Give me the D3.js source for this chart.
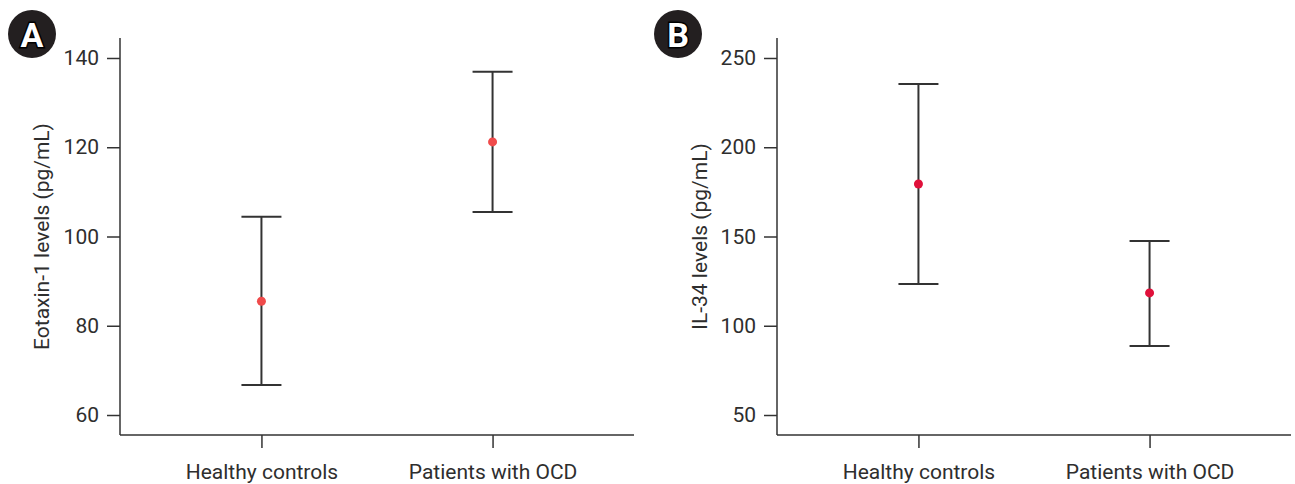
<!DOCTYPE html>
<html>
<head>
<meta charset="utf-8">
<script src="https://cdn.jsdelivr.net/npm/d3@7"></script>
<style>
  body { margin: 0; background: #fff; }
  svg { display: block; font-family: Roboto, "Noto Sans", sans-serif; }
</style>
</head>
<body>
<svg id="chart" width="1295" height="484"></svg>
<script>
// Group labels shared by both panels
const groups = ["Healthy controls", "Patients with OCD"];

// Panel A: Eotaxin-1 (pg/mL) — mean with lower/upper error limits
const eotaxinMean  = [85.5, 121.2];
const eotaxinLower = [66.7, 105.5];
const eotaxinUpper = [104.4, 136.9];
const eotaxinTicks = [60, 80, 100, 120, 140];

// Panel B: IL-34 (pg/mL)
const il34Mean  = [179.4, 118.4];
const il34Lower = [123.4, 88.7];
const il34Upper = [235.4, 147.5];
const il34Ticks = [50, 100, 150, 200, 250];

const svg = d3.select("#chart");
const axisColor = "#333";
const textColor = "#2e2e2e";
const fontSize = "21px";

function panel(opts) {
  const { left, right, top, bottom, domain, ticks, mean, lower, upper,
          title, titleX, letter, badgeX, dotColor } = opts;

  const x = d3.scalePoint().domain(groups).range([left, right]).padding(0.612);
  const y = d3.scaleLinear().domain(domain).range([bottom, top]);

  const g = svg.append("g");

  // y axis
  const ya = g.append("g")
    .attr("transform", `translate(${left},0)`)
    .call(d3.axisLeft(y).tickValues(ticks).tickSize(13).tickPadding(8).tickSizeOuter(0));
  // x axis
  const xa = g.append("g")
    .attr("transform", `translate(0,${bottom})`)
    .call(d3.axisBottom(x).tickSize(13).tickPadding(16).tickSizeOuter(0));

  [ya, xa].forEach(a => {
    a.attr("font-size", null).attr("font-family", null);
    a.selectAll("path.domain").attr("stroke", axisColor).attr("stroke-width", 1.5);
    a.selectAll(".tick line").attr("stroke", axisColor).attr("stroke-width", 1.5);
    a.selectAll(".tick text").attr("fill", textColor).style("font-size", fontSize);
  });
  xa.select("path.domain").attr("d", `M${left},0H${right}`);
  ya.select("path.domain").attr("d", `M0,${top}V${bottom}`);

  // y axis title
  g.append("text")
    .attr("transform", `translate(${titleX},${(top + bottom) / 2}) rotate(-90)`)
    .attr("text-anchor", "middle")
    .attr("dominant-baseline", "central")
    .attr("fill", textColor)
    .style("font-size", fontSize)
    .text(title);

  // error bars
  const capHalf = 20;
  const data = groups.map((k, i) => ({ k, m: mean[i], lo: lower[i], hi: upper[i] }));
  const eb = g.append("g").selectAll("g").data(data).join("g");
  eb.append("line")
    .attr("x1", d => x(d.k)).attr("x2", d => x(d.k))
    .attr("y1", d => y(d.hi)).attr("y2", d => y(d.lo))
    .attr("stroke", axisColor).attr("stroke-width", 2);
  eb.append("line")
    .attr("x1", d => x(d.k) - capHalf).attr("x2", d => x(d.k) + capHalf)
    .attr("y1", d => y(d.hi)).attr("y2", d => y(d.hi))
    .attr("stroke", axisColor).attr("stroke-width", 2);
  eb.append("line")
    .attr("x1", d => x(d.k) - capHalf).attr("x2", d => x(d.k) + capHalf)
    .attr("y1", d => y(d.lo)).attr("y2", d => y(d.lo))
    .attr("stroke", axisColor).attr("stroke-width", 2);
  eb.append("circle")
    .attr("cx", d => x(d.k)).attr("cy", d => y(d.m))
    .attr("r", 4.5).attr("fill", dotColor);

  // panel badge
  const b = svg.append("g").attr("transform", `translate(${badgeX},34)`);
  b.append("circle").attr("r", 24).attr("fill", "#231f20");
  b.append("text")
    .attr("text-anchor", "middle")
    .attr("dominant-baseline", "central")
    .attr("y", 1)
    .attr("fill", "#fff")
    .attr("stroke", "#000")
    .attr("stroke-width", 3)
    .attr("paint-order", "stroke")
    .style("font-size", "34px")
    .style("font-weight", "bold")
    .text(letter);
}

panel({
  left: 120, right: 634, top: 38, bottom: 435,
  domain: [55.52, 144.48], ticks: eotaxinTicks,
  mean: eotaxinMean, lower: eotaxinLower, upper: eotaxinUpper,
  title: "Eotaxin-1 levels (pg/mL)", titleX: 42,
  letter: "A", badgeX: 32, dotColor: "#f04b4b"
});

panel({
  left: 777, right: 1291, top: 38, bottom: 435,
  domain: [38.8, 261.2], ticks: il34Ticks,
  mean: il34Mean, lower: il34Lower, upper: il34Upper,
  title: "IL-34 levels (pg/mL)", titleX: 700,
  letter: "B", badgeX: 678, dotColor: "#e0103a"
});
</script>
</body>
</html>
